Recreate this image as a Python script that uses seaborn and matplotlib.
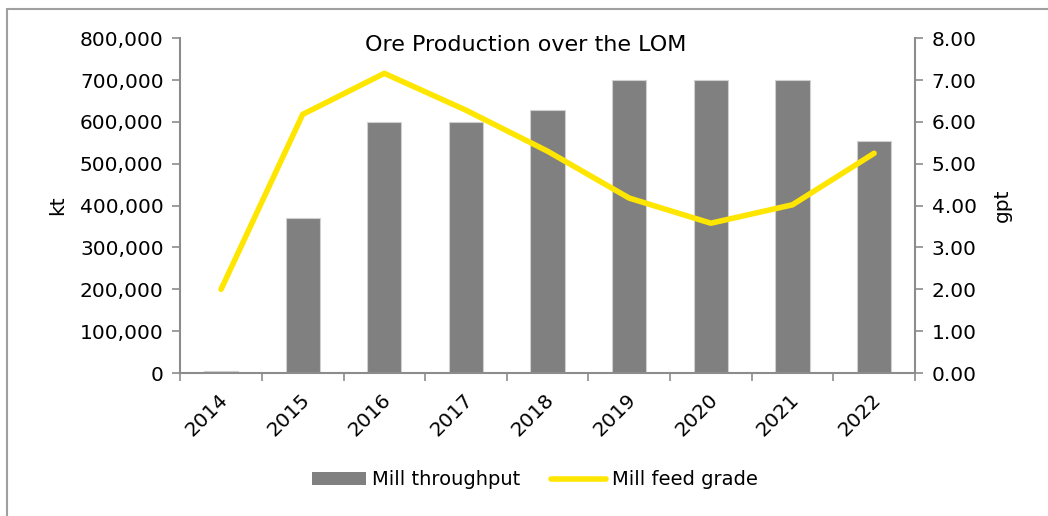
import matplotlib
matplotlib.use("Agg")
import matplotlib.pyplot as plt
import seaborn as sns
import numpy as np
import pandas as pd
from matplotlib.lines import Line2D
from matplotlib.patches import Patch
from matplotlib.ticker import FuncFormatter, FixedLocator
import matplotlib.transforms as mtrans

years = ["2014", "2015", "2016", "2017", "2018", "2019", "2020", "2021", "2022"]
mill_throughput = [5000, 370000, 600000, 600000, 628000, 700000, 700000, 700000, 555000]
mill_feed_grade = [2.00, 6.18, 7.16, 6.28, 5.30, 4.18, 3.58, 4.02, 5.25]

sns.set_theme(style="white")
plt.rcParams['font.family'] = ['DejaVu Sans']

BAR = "#808080"
YEL = "#FFE600"
AX = "#8C8C8C"
FS = 14.5

df = pd.DataFrame({"year": years, "kt": mill_throughput, "gpt": mill_feed_grade})

fig = plt.figure(figsize=(10.48, 5.16), dpi=100)
ax = fig.add_axes([0.172, 0.277, 0.701, 0.649])

sns.barplot(data=df, x="year", y="kt", color=BAR, width=0.42, ax=ax,
            saturation=1, edgecolor="#D0D0D0", linewidth=0.8)
ax.set_xlim(-0.5, 8.5)
ax.set_ylim(0, 800000)
ax.yaxis.set_major_locator(FixedLocator(np.arange(0, 800001, 100000)))
ax.yaxis.set_major_formatter(FuncFormatter(lambda v, p: f"{int(v):,}"))
ax.set_xlabel("")
ax.set_ylabel("kt", fontsize=FS, labelpad=9, color="black")

ax2 = ax.twinx()
sns.lineplot(x=np.arange(len(years)), y=mill_feed_grade, color=YEL, linewidth=4,
             ax=ax2, solid_capstyle="round")
ax2.set_ylim(0, 8)
ax2.yaxis.set_major_locator(FixedLocator(np.arange(0, 8.01, 1)))
ax2.yaxis.set_major_formatter(FuncFormatter(lambda v, p: f"{v:.2f}"))
ax2.set_ylabel("gpt", fontsize=FS, labelpad=12, color="black")
ax2.set_xlim(-0.5, 8.5)

for a in (ax, ax2):
    for s in a.spines.values():
        s.set_visible(False)
    a.grid(False)
ax.spines["left"].set_visible(True)
ax.spines["bottom"].set_visible(True)
ax2.spines["right"].set_visible(True)
for s in (ax.spines["left"], ax.spines["bottom"], ax2.spines["right"]):
    s.set_color(AX)
    s.set_linewidth(1.5)

ax.tick_params(axis="y", which="major", direction="out", length=6, width=1.2,
               color=AX, labelsize=FS, labelcolor="black", left=True, pad=6)
ax2.tick_params(axis="y", which="major", direction="out", length=6, width=1.2,
                color=AX, labelsize=FS, labelcolor="black", right=True, pad=6)
ax.set_xticks(np.arange(len(years)))
ax.set_xticklabels(years, rotation=45, ha="right", rotation_mode="anchor", fontsize=FS)
ax.tick_params(axis="x", which="major", length=0, pad=12, labelcolor="black")
ax.set_xticks(np.arange(-0.5, 9.0, 1), minor=True)
ax.tick_params(axis="x", which="minor", direction="out", length=6, width=1.2,
               color=AX, bottom=True)
offset = mtrans.ScaledTranslation(-2/72, 0, fig.dpi_scale_trans)
for lbl in ax.get_xticklabels():
    lbl.set_transform(lbl.get_transform() + offset)

fig.text(526/1048, 1 - 45/516, "Ore Production over the LOM",
         ha="center", va="center", fontsize=16, color="black")

handles = [Patch(facecolor=BAR, edgecolor="none"),
           Line2D([0], [0], color=YEL, linewidth=4, solid_capstyle="round")]
leg = fig.legend(handles, ["Mill throughput", "Mill feed grade"], loc="center",
                 bbox_to_anchor=(0.51, 0.07), ncol=2, frameon=False, fontsize=14,
                 handlelength=2.8, handleheight=0.6, columnspacing=1.6, handletextpad=0.3)
for t in leg.get_texts():
    t.set_color("black")

fig.add_artist(Line2D([0.0067, 1.0], [1 - 9/516, 1 - 9/516], transform=fig.transFigure,
                      color="#A0A0A0", linewidth=1.5))
fig.add_artist(Line2D([0.0067, 0.0067], [0.0, 1 - 9/516], transform=fig.transFigure,
                      color="#A0A0A0", linewidth=1.5))

fig.savefig("out.png", dpi=100, facecolor="white")
